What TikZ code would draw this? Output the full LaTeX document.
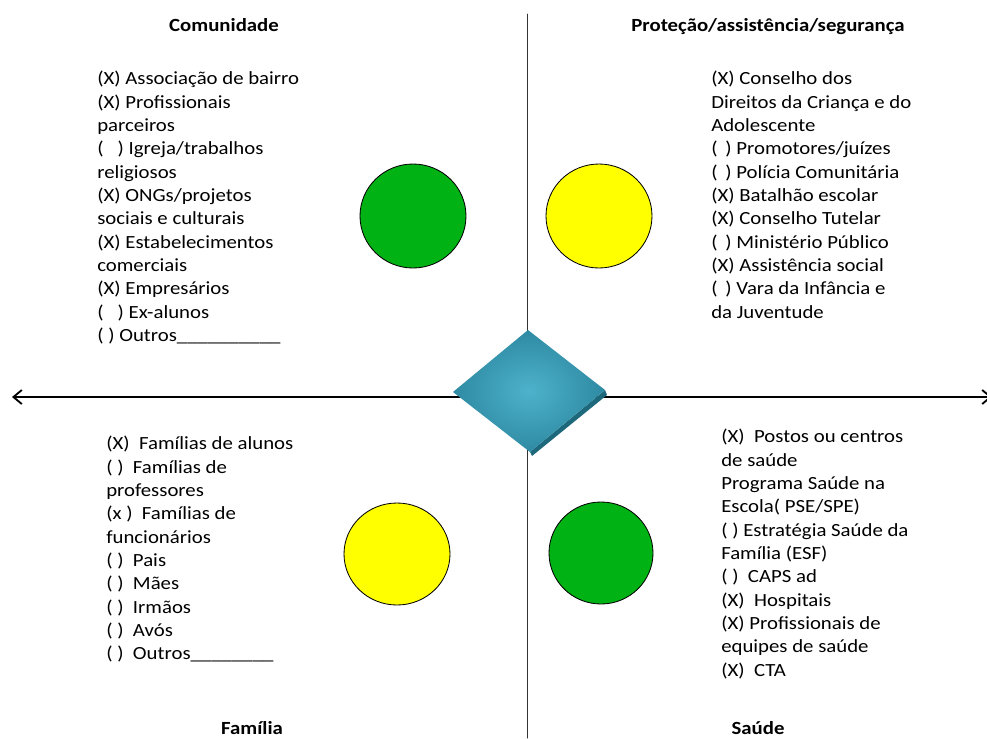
\documentclass[tikz,border=0pt]{standalone}
\usepackage{fontspec}
\setmainfont{Carlito}[FakeStretch=1.12]
\usetikzlibrary{arrows.meta}
\definecolor{verde}{RGB}{0,178,20}
\definecolor{amarelo}{RGB}{255,255,0}
\definecolor{losangoIn}{RGB}{78,178,204}
\definecolor{losangoOut}{RGB}{46,138,162}
\definecolor{losangoBorda}{RGB}{30,104,124}

\begin{document}
\begin{tikzpicture}[line cap=round,line join=round,x=0.025cm,y=-0.025cm,
  lista/.style={anchor=north west,align=left,inner sep=0pt,font=\fontsize{13.2}{16.6}\selectfont},
  titulo/.style={anchor=base,inner sep=0pt,font=\fontsize{13.2}{16.6}\selectfont\bfseries},
  bola/.style={draw=black,line width=0.6pt}]
\useasboundingbox (0,0) rectangle (987,738);

\coordinate (esq) at (12,397);
\coordinate (dir) at (992,397);
\coordinate (topo) at (527,14);
\coordinate (base) at (527,738);
\draw [line width=0.7pt,black!80] (topo) -- (base);
\draw [line width=1pt,{Straight Barb[length=6pt,width=10pt,line width=1.3pt]}-{Straight Barb[length=6pt,width=10pt,line width=1.3pt]}] (esq) -- (dir);

\fill [losangoBorda] (605,390) -- (607,395) -- (532,456) -- (530,452) -- cycle;
\shade [inner color=losangoIn,outer color=losangoOut] (528,330) -- (605,390) -- (530,452) -- (453,392) -- cycle;

\draw [bola,fill=verde] (413,216) ellipse (53 and 52);
\draw [bola,fill=amarelo] (599,216) ellipse (53 and 52);
\draw [bola,fill=amarelo] (397,554) ellipse (53 and 51);
\draw [bola,fill=verde] (601,553) ellipse (52 and 51);

\node [titulo] (comunidade) at (224,31) {Comunidade};
\node [titulo] (protecao) at (768,31) {Proteção/assistência/segurança};
\node [titulo] (familia) at (252,734) {Família};
\node [titulo] (saude) at (758,734) {Saúde};

\node [lista] (listaCom) at (97,71) {(X) Associação de bairro\\(X) Profissionais\\parceiros\\(\ \ \ ) Igreja/trabalhos\\religiosos\\(X) ONGs/projetos\\sociais e culturais\\(X) Estabelecimentos\\comerciais\\(X) Empresários\\(\ \ \ ) Ex-alunos\\(\ ) Outros\_\_\_\_\_\_\_\_\_\_};
\node [lista] (listaProt) at (711,71) {(X) Conselho dos\\Direitos da Criança e do\\Adolescente\\(\ \,) Promotores/juízes\\(\ \,) Polícia Comunitária\\(X) Batalhão escolar\\(X) Conselho Tutelar\\(\ \,) Ministério Público\\(X) Assistência social\\(\ \,) Vara da Infância e\\da Juventude};
\node [lista] (listaFam) at (106,436) {(X)\ \ Famílias de alunos\\(\ )\ \ Famílias de\\professores\\(x )\ \ Famílias de\\funcionários\\(\ )\ \ Pais\\(\ )\ \ Mães\\(\ )\ \ Irmãos\\(\ )\ \ Avós\\(\ )\ \ Outros\_\_\_\_\_\_\_\_};
\node [lista] (listaSau) at (721,429) {(X)\ \ Postos ou centros\\de saúde\\Programa Saúde na\\Escola( PSE/SPE)\\(\ ) Estratégia Saúde da\\Família (ESF)\\(\ )\ \ CAPS ad\\(X)\ \ Hospitais\\(X) Profissionais de\\equipes de saúde\\(X)\ \ CTA};

\end{tikzpicture}
\end{document}
